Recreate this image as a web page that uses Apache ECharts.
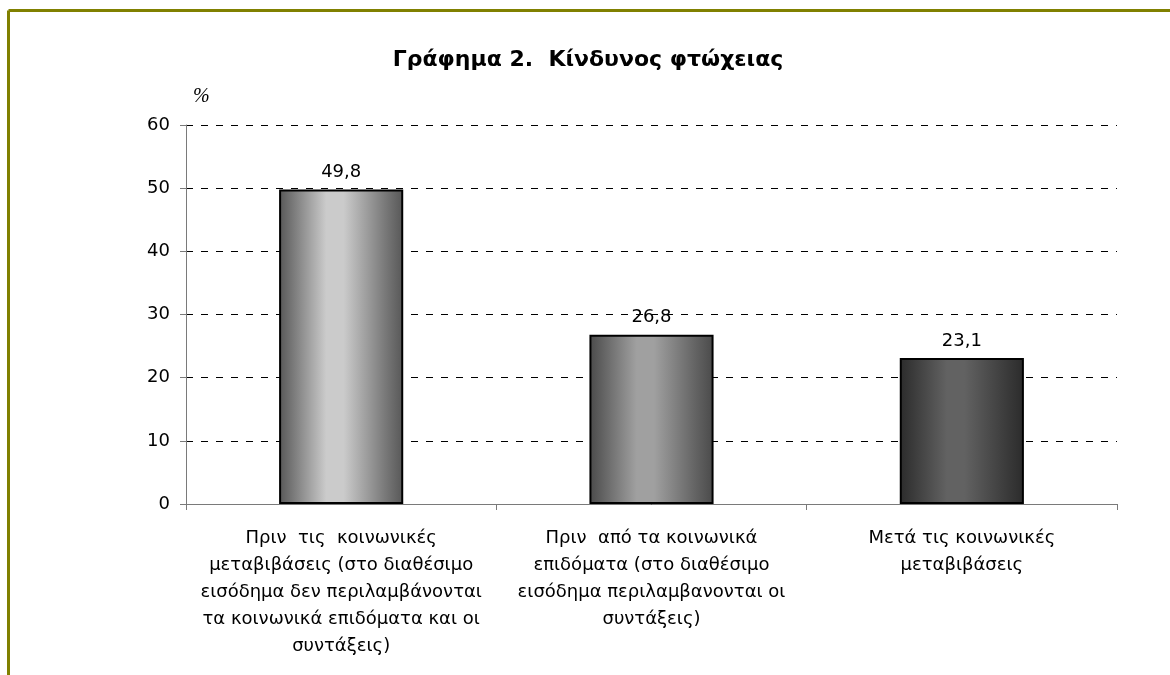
<!DOCTYPE html>
<html>
<head>
    <meta charset="utf-8">
    <title>ECharts</title>
    <script src="https://cdn.jsdelivr.net/npm/echarts@6/dist/echarts.min.js"></script>
    <style>
        body { margin: 0; background: #fff; }
    </style>
</head>
<body>
<div id="main" style="width: 1170px;height:675px;"></div>
<script type="text/javascript">
    // data
    var categories = [
        'Πριν  τις  κοινωνικές\nμεταβιβάσεις (στο διαθέσιμο\nεισόδημα δεν περιλαμβάνονται\nτα κοινωνικά επιδόματα και οι\nσυντάξεις)',
        'Πριν  από τα κοινωνικά\nεπιδόματα (στο διαθέσιμο\nεισόδημα περιλαμβανονται οι\nσυντάξεις)',
        'Μετά τις κοινωνικές\nμεταβιβάσεις'
    ];
    var values = [49.8, 26.8, 23.1];
    var yTicks = [0, 10, 20, 30, 40, 50, 60];

    // bar shades: [edge, highlight]
    var shades = [
        ['#575757', '#cbcbcb'],
        ['#4a4a4a', '#a0a0a0'],
        ['#2b2b2b', '#626262']
    ];

    var fontFamily = '"DejaVu Sans", Verdana, sans-serif';

    var chartDom = document.getElementById('main');
    var myChart = echarts.init(chartDom);

    function barGradient(s) {
        return new echarts.graphic.LinearGradient(0, 0, 1, 0, [
            {offset: 0, color: s[0]},
            {offset: 0.38, color: s[1]},
            {offset: 0.52, color: s[1]},
            {offset: 0.85, color: echarts.color.lerp(0.7, [s[1], s[0]])},
            {offset: 1, color: s[0]}
        ]);
    }

    var option = {
        animation: false,
        backgroundColor: '#fff',
        title: {
            text: 'Γράφημα 2.  Κίνδυνος φτώχειας',
            left: 583,
            top: 44,
            textAlign: 'center',
            textStyle: {
                fontFamily: fontFamily,
                fontSize: 22,
                fontWeight: 'bold',
                color: '#000'
            }
        },
        graphic: [
            {
                type: 'line',
                shape: {x1: 8.5, y1: 10.5, x2: 1170, y2: 10.5},
                style: {stroke: '#808000', lineWidth: 3}
            },
            {
                type: 'line',
                shape: {x1: 8.5, y1: 10.5, x2: 8.5, y2: 675},
                style: {stroke: '#808000', lineWidth: 3}
            },
            {
                type: 'text',
                left: 193,
                top: 87,
                style: {
                    text: '%',
                    fontFamily: '"Liberation Serif", "Times New Roman", serif',
                    fontStyle: 'italic',
                    fontSize: 20,
                    fill: '#000'
                }
            }
        ],
        grid: {
            left: 186,
            right: 53,
            top: 125,
            bottom: 171
        },
        xAxis: {
            type: 'category',
            data: categories,
            axisLine: {lineStyle: {color: '#7a7a7a', width: 1}},
            axisTick: {show: true, length: 6, lineStyle: {color: '#7a7a7a'}},
            axisLabel: {
                interval: 0,
                margin: 21,
                fontFamily: fontFamily,
                fontSize: 18,
                lineHeight: 27,
                color: '#000',
                align: 'center'
            }
        },
        yAxis: {
            type: 'value',
            min: yTicks[0],
            max: yTicks[yTicks.length - 1],
            interval: 10,
            axisLine: {show: true, lineStyle: {color: '#7a7a7a', width: 1}},
            axisTick: {show: true, length: 6, lineStyle: {color: '#7a7a7a'}},
            axisLabel: {
                margin: 16,
                fontFamily: fontFamily,
                fontSize: 18,
                color: '#000'
            },
            splitLine: {
                show: true,
                lineStyle: {color: '#000', width: 1, type: [7, 8]}
            }
        },
        series: [{
            type: 'bar',
            barWidth: '40%',
            data: values.map(function (v, i) {
                return {
                    value: v,
                    itemStyle: {color: barGradient(shades[i])}
                };
            }),
            itemStyle: {
                borderColor: '#000',
                borderWidth: 2
            },
            label: {
                show: true,
                position: 'top',
                distance: 8,
                fontFamily: fontFamily,
                fontSize: 18,
                color: '#000',
                formatter: function (p) {
                    return String(p.value).replace('.', ',');
                }
            }
        }]
    };

    myChart.setOption(option);
</script>
</body>
</html>
